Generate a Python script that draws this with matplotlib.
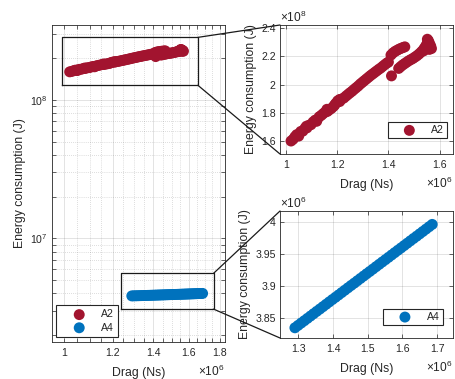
import numpy as np
import matplotlib
matplotlib.use("Agg")
import matplotlib.pyplot as plt
from matplotlib.ticker import FixedLocator, NullFormatter, FuncFormatter, LogLocator
from matplotlib.patches import ConnectionPatch

plt.rcParams['font.family'] = ['Liberation Sans', 'DejaVu Sans']
plt.rcParams['mathtext.fontset'] = 'custom'
plt.rcParams['mathtext.rm'] = 'Liberation Sans'
plt.rcParams['mathtext.it'] = 'Liberation Sans:italic'

# ---------------- data (drag in 1e6 Ns, energy in 1e8 J for A2, 1e6 J for A4)
a2_drag = [1.020, 1.028, 1.035, 1.042, 1.050, 1.058, 1.066, 1.074, 1.082, 1.090,
           1.098, 1.106, 1.114, 1.122, 1.130, 1.138, 1.146, 1.154, 1.162, 1.170,
           1.178, 1.186, 1.194, 1.202, 1.210, 1.218, 1.226, 1.234, 1.242, 1.250,
           1.258, 1.266, 1.274, 1.282, 1.290, 1.298, 1.306, 1.314, 1.322, 1.330,
           1.338, 1.346, 1.354, 1.362, 1.370, 1.378, 1.386, 1.394, 1.400,
           1.050, 1.080, 1.120, 1.160, 1.190, 1.210,
           1.410, 1.418, 1.426, 1.434, 1.442, 1.450, 1.458, 1.464,
           1.412,
           1.440, 1.448, 1.456, 1.464, 1.472, 1.480, 1.488, 1.496, 1.504, 1.512,
           1.520, 1.528, 1.535, 1.540, 1.545, 1.550, 1.553, 1.556, 1.552, 1.560,
           1.565, 1.568, 1.560, 1.548, 1.538]
a2_energy = [1.600, 1.612, 1.630, 1.645, 1.648, 1.668, 1.670, 1.690, 1.693, 1.712,
             1.716, 1.735, 1.748, 1.752, 1.772, 1.782, 1.795, 1.806, 1.810, 1.822,
             1.832, 1.846, 1.866, 1.885, 1.895, 1.898, 1.905, 1.918, 1.930, 1.942,
             1.953, 1.966, 1.978, 1.990, 2.004, 2.016, 2.028, 2.040, 2.052, 2.064,
             2.075, 2.086, 2.097, 2.108, 2.118, 2.130, 2.142, 2.153, 2.160,
             1.635, 1.705, 1.740, 1.825, 1.855, 1.880,
             2.210, 2.225, 2.236, 2.244, 2.252, 2.258, 2.264, 2.268,
             2.062,
             2.115, 2.128, 2.140, 2.150, 2.160, 2.170, 2.178, 2.186, 2.196, 2.206,
             2.218, 2.232, 2.245, 2.258, 2.272, 2.288, 2.300, 2.312, 2.322, 2.295,
             2.275, 2.256, 2.250, 2.265, 2.240]

a4_drag = [1.290, 1.299, 1.308, 1.317, 1.326, 1.335, 1.344, 1.353, 1.362, 1.371,
           1.380, 1.389, 1.398, 1.407, 1.416, 1.425, 1.434, 1.443, 1.452, 1.461,
           1.470, 1.479, 1.488, 1.497, 1.506, 1.515, 1.524, 1.533, 1.542, 1.551,
           1.560, 1.569, 1.578, 1.587, 1.596, 1.605, 1.614, 1.623, 1.632, 1.641,
           1.650, 1.659, 1.668, 1.677, 1.686]
a4_energy = [3.8350, 3.8387, 3.8424, 3.8460, 3.8497, 3.8534, 3.8571, 3.8608, 3.8644, 3.8681,
             3.8718, 3.8755, 3.8792, 3.8828, 3.8865, 3.8902, 3.8939, 3.8976, 3.9013, 3.9049,
             3.9086, 3.9123, 3.9160, 3.9197, 3.9233, 3.9270, 3.9307, 3.9344, 3.9381, 3.9417,
             3.9454, 3.9491, 3.9528, 3.9565, 3.9601, 3.9638, 3.9675, 3.9712, 3.9749, 3.9785,
             3.9822, 3.9859, 3.9896, 3.9933, 3.9970]

series_labels = ['A2', 'A4']
main_xticks = [1.0, 1.2, 1.4, 1.6, 1.8]
main_xminor = [1.05, 1.1, 1.15, 1.25, 1.3, 1.35, 1.45, 1.5, 1.55, 1.65, 1.7, 1.75]
a2_xticks = [1.0, 1.2, 1.4, 1.6]
a2_yticks = [1.6, 1.8, 2.0, 2.2, 2.4]
a4_xticks = [1.3, 1.4, 1.5, 1.6, 1.7]
a4_yticks = [3.85, 3.9, 3.95, 4.0]
# zoom boxes in the main plot (absolute units)
a2_box = [0.989e6, 1.656e6, 1.28e8, 2.84e8]
a4_box = [1.237e6, 1.757e6, 3.08e6, 5.58e6]

RED = '#A2142F'
BLUE = '#0072BD'
DARK = '#262626'
MS = 62
TICK_FS = 7.6
LABEL_FS = 8.8
EXP_FS = 8.6

W, H = 456, 379
fig = plt.figure(figsize=(W / 100, H / 100), dpi=100)

def rect(l, t, r, b):
    return [l / W, (H - b) / H, (r - l) / W, (b - t) / H]

def style(ax):
    for s in ax.spines.values():
        s.set_color(DARK)
        s.set_linewidth(0.6)
    ax.tick_params(which='both', direction='in', top=True, right=True,
                   colors=DARK, labelcolor=DARK, labelsize=TICK_FS, width=0.5,
                   length=3)
    ax.tick_params(axis='x', pad=4.5)
    ax.tick_params(axis='y', pad=3)

def exp_labels(a, top_exp=None):
    a.annotate(r'$\times 10^{6}$', xy=(1.0, 0.0), xycoords='axes fraction',
               xytext=(0, -24.5), textcoords='offset points', ha='right',
               va='baseline', fontsize=EXP_FS, color=DARK)
    if top_exp is not None:
        a.annotate(r'$\times 10^{%d}$' % top_exp, xy=(0.0, 1.0), xycoords='axes fraction',
                   xytext=(0, 2.5), textcoords='offset points', ha='left',
                   va='baseline', fontsize=EXP_FS, color=DARK)

# ---------------- main axes
ax = fig.add_axes(rect(52, 25, 225, 342))
ax.set_xscale('log')
ax.set_yscale('log')
ax.scatter(np.array(a2_drag) * 1e6, np.array(a2_energy) * 1e8, s=MS, c=RED,
           edgecolors='none', label=series_labels[0], zorder=3)
ax.scatter(np.array(a4_drag) * 1e6, np.array(a4_energy) * 1e6, s=MS, c=BLUE,
           edgecolors='none', label=series_labels[1], zorder=3)
ax.set_xlim(0.954e6, 1.835e6)
ax.set_ylim(1.78e6, 3.49e8)
ax.xaxis.set_major_locator(FixedLocator([v * 1e6 for v in main_xticks]))
ax.xaxis.set_major_formatter(FuncFormatter(lambda v, p: '%g' % (v / 1e6)))
ax.xaxis.set_minor_locator(FixedLocator([v * 1e6 for v in main_xminor]))
ax.xaxis.set_minor_formatter(NullFormatter())
ax.yaxis.set_major_locator(LogLocator(base=10, numticks=10))
ax.yaxis.set_minor_locator(LogLocator(base=10, subs=np.arange(2, 10), numticks=20))
ax.yaxis.set_minor_formatter(NullFormatter())
style(ax)
ax.grid(True, which='major', color=DARK, alpha=0.15, lw=0.6, ls='-')
ax.grid(True, which='minor', color=DARK, alpha=0.3, lw=0.5, ls=(0, (1, 2)))
ax.set_axisbelow(True)
ax.set_xlabel('Drag (Ns)', fontsize=LABEL_FS, color=DARK, labelpad=6)
ax.set_ylabel('Energy consumption (J)', fontsize=LABEL_FS, color=DARK, labelpad=3)
exp_labels(ax)

for bx in (a2_box, a4_box):
    ax.plot([bx[0], bx[1], bx[1], bx[0], bx[0]], [bx[2], bx[2], bx[3], bx[3], bx[2]],
            color='#1a1a1a', lw=0.9, zorder=4)

leg = ax.legend(loc='lower left', bbox_to_anchor=(56 / W, (H - 337.3) / H),
                bbox_transform=fig.transFigure, borderaxespad=0, fontsize=TICK_FS,
                scatterpoints=1, handlelength=3.5, handletextpad=0.3, borderpad=0.45,
                labelspacing=0.3, fancybox=False, framealpha=1, edgecolor=DARK)
leg.get_frame().set_linewidth(0.8)
for t in leg.get_texts():
    t.set_color(DARK)

def inset(pos, xs, ys, color, label, xlim, ylim, xt, yt, yexp, legpos):
    a = fig.add_axes(rect(*pos))
    a.scatter(xs, ys, s=MS, c=color, edgecolors='none', label=label, zorder=3)
    a.set_xlim(*xlim)
    a.set_ylim(*ylim)
    a.set_xticks(xt)
    a.set_yticks(yt)
    a.xaxis.set_major_formatter(FuncFormatter(lambda v, p: '%g' % round(v, 3)))
    a.yaxis.set_major_formatter(FuncFormatter(lambda v, p: '%g' % round(v, 3)))
    style(a)
    a.grid(True, color=DARK, alpha=0.15, lw=0.6)
    a.set_axisbelow(True)
    a.set_xlabel('Drag (Ns)', fontsize=LABEL_FS, color=DARK, labelpad=6)
    a.set_ylabel('Energy consumption (J)', fontsize=LABEL_FS, color=DARK, labelpad=3)
    exp_labels(a, yexp)
    lg = a.legend(loc='lower left', bbox_to_anchor=(legpos[0] / W, (H - legpos[1]) / H),
                  bbox_transform=fig.transFigure, borderaxespad=0, fontsize=TICK_FS,
                  scatterpoints=1, handlelength=3.5, handletextpad=0.3, borderpad=0.3,
                  fancybox=False, framealpha=1, edgecolor=DARK)
    lg.get_frame().set_linewidth(0.8)
    for t in lg.get_texts():
        t.set_color(DARK)
    return a

ax2 = inset((280, 25, 453, 154), a2_drag, a2_energy, RED, series_labels[0],
            (0.977, 1.652), (1.508, 2.423), a2_xticks, a2_yticks, 8, (387.7, 138.3))
ax4 = inset((280, 211, 453, 338), a4_drag, a4_energy, BLUE, series_labels[1],
            (1.247, 1.746), (3.819, 4.018), a4_xticks, a4_yticks, 6, (383.3, 325))

for bx, ai in ((a2_box, ax2), (a4_box, ax4)):
    for (xa, ya), (xb, yb) in (((bx[1], bx[3]), (0, 1)), ((bx[1], bx[2]), (0, 0))):
        con = ConnectionPatch(xyA=(xa, ya), coordsA=ax.transData,
                              xyB=(xb, yb), coordsB=ai.transAxes,
                              color='#1a1a1a', lw=0.9)
        fig.add_artist(con)

fig.savefig('out.png', dpi=100)
